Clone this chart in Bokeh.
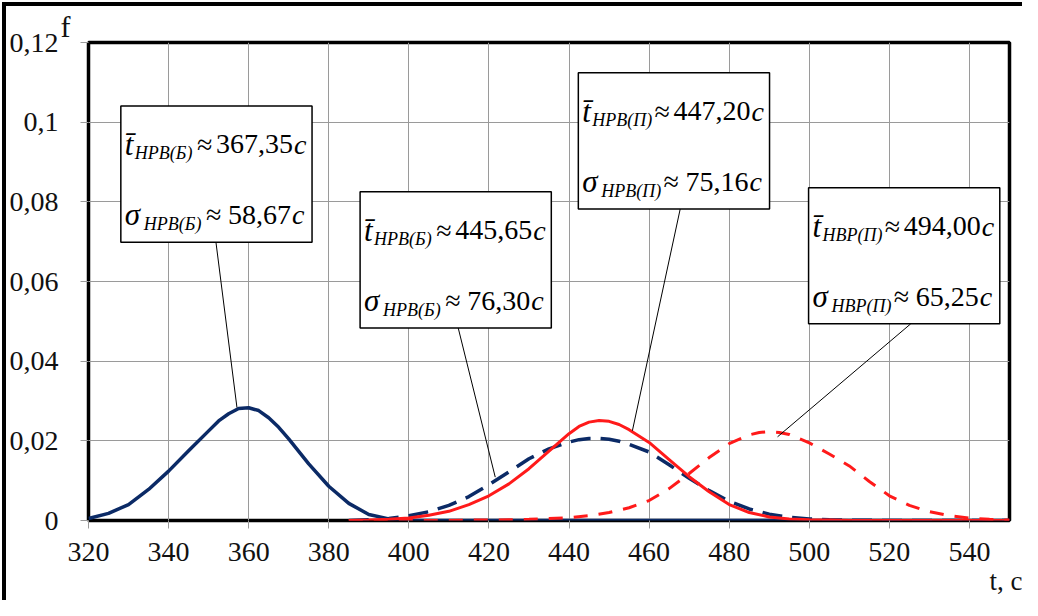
from bokeh.plotting import figure
from bokeh.models import Range1d, FixedTicker, Label, Title
from bokeh.embed import file_html
from bokeh.resources import INLINE

# ---------------- data ----------------
t_nrv_b_solid = [320, 325, 330, 335, 340, 345, 350, 352.5, 355, 357.5, 360, 362.5,
                 365, 367.5, 370, 375, 380, 385, 390, 395, 400, 420, 440, 460, 480,
                 500, 520, 540, 550]
f_nrv_b_solid = [0.0005, 0.0018, 0.0040, 0.0078, 0.0124, 0.0175, 0.0225, 0.0250,
                 0.0268, 0.0281, 0.0283, 0.0276, 0.0258, 0.0234, 0.0205, 0.0142,
                 0.0086, 0.0043, 0.0015, 0.0004, 0, 0, 0, 0, 0, 0, 0, 0, 0]

t_nrv_b_dash = [385, 390, 395, 400, 405, 410, 415, 420, 425, 430, 435, 440, 442.5,
                445, 447.5, 450, 452.5, 455, 460, 465, 470, 475, 480, 485, 490, 495,
                500, 505, 510, 520, 530, 540, 550]
f_nrv_b_dash = [0.0000, 0.0002, 0.0005, 0.0012, 0.0022, 0.0038, 0.0060, 0.0090,
                0.0122, 0.0155, 0.0180, 0.0197, 0.0203, 0.0206, 0.0206, 0.0204,
                0.0199, 0.0191, 0.0172, 0.0140, 0.0106, 0.0075, 0.0048, 0.0029,
                0.0016, 0.0008, 0.0004, 0.0002, 0.0001, 0, 0, 0, 0]

t_nrv_p_solid = [385, 390, 395, 400, 405, 410, 415, 420, 425, 430, 435, 440, 442.5,
                 445, 447.5, 450, 452.5, 455, 460, 465, 470, 475, 480, 485, 490,
                 495, 500, 505, 510, 520, 530, 540, 550]
f_nrv_p_solid = [0.0000, 0.0001, 0.0003, 0.0006, 0.0013, 0.0023, 0.0040, 0.0062,
                 0.0092, 0.0130, 0.0174, 0.0218, 0.0236, 0.0247, 0.0251, 0.0249,
                 0.0241, 0.0228, 0.0196, 0.0153, 0.0110, 0.0072, 0.0040, 0.0020,
                 0.0009, 0.0004, 0.0002, 0.0001, 0, 0, 0, 0, 0]

t_nvr_p_dash = [385, 400, 410, 415, 420, 425, 430, 435, 440, 445, 450, 455, 460,
                465, 470, 475, 480, 485, 487.5, 490, 492.5, 495, 500, 505, 510,
                515, 520, 525, 530, 535, 540, 545, 550]
f_nvr_p_dash = [0.0, 0.0, 0.0, 0.0001, 0.0001, 0.0002, 0.0003, 0.0005, 0.0007,
                0.0012, 0.0020, 0.0032, 0.0050, 0.0080, 0.0118, 0.0158, 0.0193,
                0.0215, 0.0221, 0.0223, 0.0221, 0.0216, 0.0195, 0.0167, 0.0137,
                0.0098, 0.0062, 0.0038, 0.0022, 0.0012, 0.0006, 0.0003, 0.0001]

x_ticks = [320, 340, 360, 380, 400, 420, 440, 460, 480, 500, 520, 540]
y_ticks = [0, 0.02, 0.04, 0.06, 0.08, 0.1, 0.12]
y_tick_labels = ["0", "0,02", "0,04", "0,06", "0,08", "0,1", "0,12"]
x_name = "t, c"
y_name = "f"

# annotation texts
box_t_sub = ["НРВ(Б)", "НРВ(Б)", "НРВ(П)", "НВР(П)"]
box_t_val = ["367,35", "445,65", "447,20", "494,00"]
box_s_val = ["58,67", "76,30", "75,16", "65,25"]

# ---------------- layout helpers (page pixels -> data) ----------------
def X(px):
    return 320 + (px - 92.7) / 4.0

def Y(py):
    return (524 - py) / 3950.0

NAVY = "#0b2a66"
RED = "#ff1a1a"
FONT = "Liberation Serif"

p = figure(width=1016, height=594, x_range=Range1d(320, 550), y_range=Range1d(0, 0.12),
           output_backend="svg", toolbar_location=None,
           min_border_left=79, min_border_right=17, min_border_top=36, min_border_bottom=84)
# outer frame of the picture: only its left and top edges are visible
p.styles = {"box-sizing": "content-box",
            "border-left": "4px solid black", "border-top": "4px solid black",
            "margin-left": "2px", "margin-top": "2px"}
p.background_fill_color = "white"
p.border_fill_color = "white"
p.outline_line_color = "black"
p.outline_line_width = 3.5

for ax in (p.xaxis, p.yaxis):
    ax.axis_line_color = None
    ax.major_tick_line_color = "#9a9a9a"
    ax.major_tick_out = 8
    ax.major_tick_in = 0
    ax.minor_tick_line_color = None
    ax.major_label_text_font = FONT
    ax.major_label_text_font_size = "28px"
    ax.major_label_text_color = "#111111"
p.xaxis.ticker = FixedTicker(ticks=x_ticks)
p.yaxis.ticker = FixedTicker(ticks=y_ticks)
p.yaxis.major_label_overrides = {v: s for v, s in zip(y_ticks, y_tick_labels)}
p.xaxis.major_label_standoff = 14
p.yaxis.major_label_standoff = 22
p.grid.grid_line_color = "#9a9a9a"
p.grid.grid_line_width = 1

# axis names, placed as titles beside the frame
p.add_layout(Title(text=y_name, align="left", offset=-28, standoff=0,
                   text_font=FONT, text_font_size="30px", text_font_style="normal",
                   text_color="#111111"), "above")
p.add_layout(Title(text=x_name, align="right", offset=-13, standoff=0,
                   text_font=FONT, text_font_size="27px", text_font_style="normal",
                   text_color="#111111"), "below")

# curves
p.line(t_nrv_b_solid, f_nrv_b_solid, line_color=NAVY, line_width=3.5)
p.line(t_nrv_b_dash, f_nrv_b_dash, line_color=NAVY, line_width=3.5, line_dash="20 10")
p.line(t_nrv_p_solid, f_nrv_p_solid, line_color=RED, line_width=3)
p.line(t_nvr_p_dash, f_nvr_p_dash, line_color=RED, line_width=3, line_dash="14 11")

# boxes (page pixels) and leader lines
box_left = [125, 364, 582, 812]
box_top = [113, 198, 80, 194]
box_w = 191
box_h = 135
lead_x0 = [220, 462, 684, 914]
lead_y0 = [248, 333, 214, 329]
lead_x1 = [241, 499, 636, 781]
lead_y1 = [412, 481, 435, 441]

p.segment([X(v) for v in lead_x0], [Y(v) for v in lead_y0],
          [X(v) for v in lead_x1], [Y(v) for v in lead_y1],
          line_color="black", line_width=1)
p.quad(left=[X(v) for v in box_left], right=[X(v + box_w) for v in box_left],
       top=[Y(v) for v in box_top], bottom=[Y(v + box_h) for v in box_top],
       fill_color="white", line_color="black", line_width=1.5)

def lab(px, py, text, size, italic=False, align="left"):
    p.add_layout(Label(x=X(px), y=Y(py), text=text, text_font=FONT,
                       text_font_size=size, text_color="black",
                       text_font_style="italic" if italic else "normal",
                       text_align=align, text_baseline="alphabetic"))

for i in range(4):
    L, T = box_left[i], box_top[i]
    # line 1: mean
    lab(L + 4, T + 38, "t\u0304", "31px", italic=True)
    lab(L + 14, T + 47, box_t_sub[i], "18px", italic=True)
    lab(L + 76, T + 38, "\u2248", "28px")
    lab(L + 172, T + 38, box_t_val[i], "28px", align="right")
    lab(L + 173, T + 38, "c", "28px", italic=True)
    # line 2: sigma
    lab(L + 4, T + 108, "\u03c3", "31px", italic=True)
    lab(L + 23, T + 117, box_t_sub[i], "18px", italic=True)
    lab(L + 85, T + 108, "\u2248", "28px")
    lab(L + 170, T + 108, box_s_val[i], "28px", align="right")
    lab(L + 171, T + 108, "c", "28px", italic=True)

open("out.html", "w").write(file_html(p, INLINE))
